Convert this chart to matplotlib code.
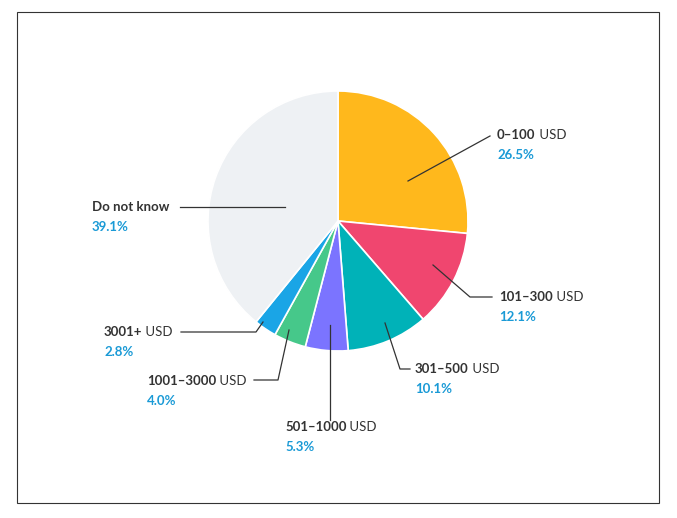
import matplotlib
matplotlib.use("Agg")
import matplotlib.pyplot as plt
from matplotlib.patches import Rectangle

ranges = ["0–100", "101–300", "301–500", "501–1000", "1001–3000", "3001+", "Do not know"]
units = [" USD", " USD", " USD", " USD", " USD", " USD", ""]
values = [26.5, 12.1, 10.1, 5.3, 4.0, 2.8, 39.1]
colors = ["#FFB81C", "#F0466F", "#00B2B8", "#7B74FF", "#46C88A", "#1AA5E6", "#EEF1F4"]
# label positions (pixel, top-left origin) and leader lines
label_pos = [(497, 135), (499, 297), (415, 369), (285, 427), (147, 381), (104, 332), (92, 207)]
leaders = [
    [(408, 181), (490, 136)],
    [(433, 265), (470, 297), (492, 297)],
    [(385, 323), (400, 369), (410, 369)],
    [(330, 325), (330, 420)],
    [(289, 330), (278, 380), (254, 380)],
    [(263, 322), (256, 332), (181, 332)],
    [(285, 207), (180, 207)],
]

W, H = 677, 518
fig = plt.figure(figsize=(W / 100, H / 100), dpi=100)
ax = fig.add_axes([0, 0, 1, 1])
ax.set_xlim(0, W)
ax.set_ylim(0, H)
ax.axis("off")
ax.set_aspect("equal")
plt.rcParams["font.family"] = "Lato"

ax.add_patch(Rectangle((17, H - 503), 642, 491, fill=False, ec="#333333", lw=0.8))

ax.pie(values, colors=colors, startangle=90, counterclock=False,
       center=(338, H - 221), radius=130, frame=True,
       wedgeprops=dict(edgecolor="white", linewidth=1.2))
ax.set_xlim(0, W)
ax.set_ylim(0, H)
ax.axis("off")

for r, u, v, (px, py), pts in zip(ranges, units, values, label_pos, leaders):
    xs = [p[0] for p in pts]
    ys = [H - p[1] for p in pts]
    ax.plot(xs, ys, color="#333333", lw=0.9)
    t = ax.text(px, H - py, r, fontsize=9.5, fontweight="bold", color="#333333",
                va="center", ha="left")
    if u:
        ax.annotate(u, xy=(1, 0), xycoords=t, fontsize=9.5, color="#333333",
                    va="bottom", ha="left")
    ax.text(px, H - py - 20, f"{v:.1f}%", fontsize=9.5, fontweight="bold",
            color="#1A9AD6", va="center", ha="left")

fig.savefig("out.png", dpi=100)
